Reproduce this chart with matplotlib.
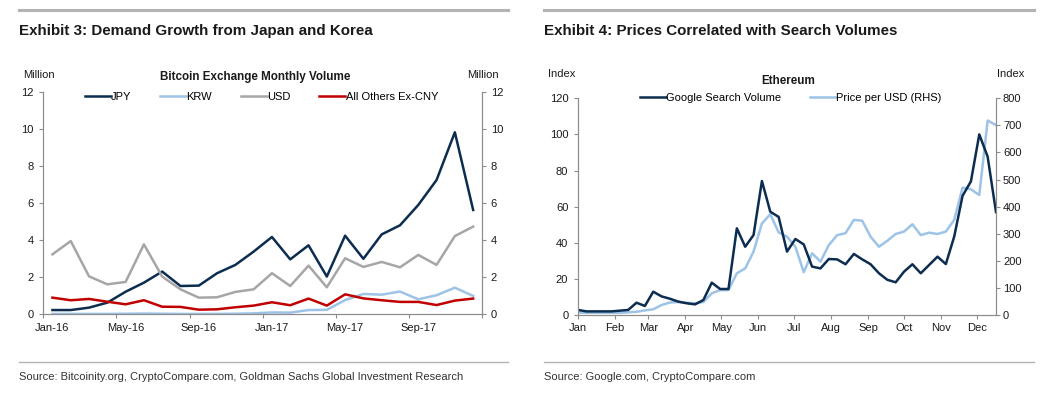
import matplotlib
matplotlib.use('Agg')
import matplotlib.pyplot as plt
import matplotlib.dates as mdates
from matplotlib import font_manager
from matplotlib.lines import Line2D
import pandas as pd

# Exhibit 3: Bitcoin exchange monthly volume (million), Jan-16 .. Dec-17
btc_months = ['Jan-16', 'Feb-16', 'Mar-16', 'Apr-16', 'May-16', 'Jun-16', 'Jul-16', 'Aug-16',
              'Sep-16', 'Oct-16', 'Nov-16', 'Dec-16', 'Jan-17', 'Feb-17', 'Mar-17', 'Apr-17',
              'May-17', 'Jun-17', 'Jul-17', 'Aug-17', 'Sep-17', 'Oct-17', 'Nov-17', 'Dec-17']
jpy = [0.23, 0.23, 0.36, 0.63, 1.22, 1.71, 2.31, 1.53, 1.55, 2.22, 2.67, 3.39,
       4.18, 2.97, 3.73, 2.04, 4.25, 3.00, 4.32, 4.81, 5.91, 7.26, 9.84, 5.64]
krw = [0.02, 0.02, 0.02, 0.02, 0.03, 0.04, 0.03, 0.02, 0.02, 0.02, 0.03, 0.05,
       0.10, 0.09, 0.23, 0.24, 0.77, 1.10, 1.06, 1.23, 0.81, 1.03, 1.44, 0.99]
usd = [3.24, 3.96, 2.05, 1.62, 1.75, 3.78, 2.04, 1.35, 0.90, 0.92, 1.21, 1.35,
       2.22, 1.53, 2.63, 1.46, 3.03, 2.56, 2.83, 2.54, 3.21, 2.67, 4.23, 4.74]
others = [0.90, 0.76, 0.83, 0.68, 0.54, 0.76, 0.41, 0.40, 0.25, 0.27, 0.38, 0.47,
          0.65, 0.49, 0.85, 0.47, 1.08, 0.86, 0.76, 0.67, 0.67, 0.50, 0.74, 0.85]

# Exhibit 4: Ethereum, weekly 2017
eth_weeks = pd.date_range('2017-01-01', periods=51, freq='7D')
google = [2.8, 2.0, 2.0, 2.0, 2.0, 2.4, 2.8, 6.8, 5.0, 12.9,
          10.3, 9.0, 7.4, 6.5, 5.9, 8.3, 17.9, 14.4, 14.4, 48.0,
          37.8, 44.3, 74.2, 57.2, 54.3, 35.1, 42.1, 39.1, 26.8, 25.8,
          31.0, 30.8, 28.1, 33.8, 30.8, 28.1, 23.1, 19.5, 18.1, 24.0,
          28.1, 23.1, 27.7, 32.3, 28.2, 43.4, 66.0, 74.0, 100.0, 87.7, 57.0]
price = [9, 8, 8, 8, 8, 8, 10, 12, 17, 21,
         37, 46, 48, 45, 43, 48, 80, 92, 92, 154,
         172, 234, 338, 372, 305, 289, 252, 158, 228, 197,
         258, 295, 302, 351, 348, 289, 252, 274, 299, 308,
         335, 295, 304, 299, 308, 351, 470, 464, 443, 718, 701]

navy = '#0c2d4f'
light = '#9dc3e6'
grey = '#a6a6a6'
red = '#c00000'
spine_c = '#8c8c8c'
text_c = '#1a1a1a'

names = {f.name for f in font_manager.fontManager.ttflist}
body = 'Liberation Sans' if 'Liberation Sans' in names else 'DejaVu Sans'
narrow = 'Liberation Sans Narrow' if 'Liberation Sans Narrow' in names else body
plt.rcParams['font.family'] = [body, 'DejaVu Sans']
plt.rcParams['font.size'] = 8

W, H = 1060, 393
fig = plt.figure(figsize=(W / 100, H / 100), dpi=100)


def px_box(x0, y0, x1, y1):
    return [x0 / W, 1 - y1 / H, (x1 - x0) / W, (y1 - y0) / H]


def fx(x):
    return x / W


def fy(y):
    return 1 - y / H


def style(ax):
    for s in ax.spines.values():
        s.set_color(spine_c)
        s.set_linewidth(0.8)
    ax.spines['top'].set_visible(False)
    ax.tick_params(which='both', color=spine_c, labelcolor=text_c, width=0.8,
                   length=3, direction='out', labelsize=8)


# ---------------- Exhibit 3 ----------------
ax1 = fig.add_axes(px_box(43.3, 92.3, 482.3, 314.3))
x = range(len(btc_months))
l_jpy, = ax1.plot(x, jpy, color=navy, lw=1.8, label='JPY')
l_krw, = ax1.plot(x, krw, color=light, lw=1.8, label='KRW')
l_usd, = ax1.plot(x, usd, color=grey, lw=1.8, label='USD')
l_oth, = ax1.plot(x, others, color=red, lw=1.8, label='All Others Ex-CNY')
ax1.set_xlim(-0.5, len(btc_months) - 0.5)
ax1.set_ylim(0, 12)
ax1.set_yticks(range(0, 13, 2))
ax1.set_xticks([i - 0.5 for i in range(0, 25, 4)])
ax1.set_xticklabels([])
ax1.set_xticks(range(0, 24, 4), minor=True)
ax1.set_xticklabels(btc_months[::4], minor=True)
style(ax1)
ax1.tick_params(axis='x', which='minor', length=0, pad=6)
ax1.tick_params(axis='y', pad=4)

ax1r = ax1.twinx()
ax1r.set_ylim(0, 12)
ax1r.set_yticks(range(0, 13, 2))
style(ax1r)
ax1r.tick_params(axis='y', pad=3)

ax1.legend(handles=[l_jpy, l_krw, l_usd, l_oth], loc='center', ncol=4, frameon=False,
           bbox_to_anchor=(fx(261.5), fy(96.7)), bbox_transform=fig.transFigure,
           handlelength=2.3, handletextpad=0.05, columnspacing=2.6, fontsize=8)

fig.text(fx(255.5), fy(77.3), 'Bitcoin Exchange Monthly Volume', ha='center', va='center',
         fontweight='bold', fontsize=8.4, color=text_c)
fig.text(fx(38.8), fy(75), 'Million', ha='center', va='center', fontsize=8, color=text_c)
fig.text(fx(483), fy(75), 'Million', ha='center', va='center', fontsize=8, color=text_c)

# ---------------- Exhibit 4 ----------------
ax3 = fig.add_axes(px_box(578, 98.3, 996, 315))
ax3r = ax3.twinx()
l_p, = ax3r.plot(eth_weeks, price, color=light, lw=1.8, label='Price per USD (RHS)')
l_g, = ax3.plot(eth_weeks, google, color=navy, lw=1.8, label='Google Search Volume')
ax3.set_zorder(ax3r.get_zorder() + 1)
ax3.patch.set_visible(False)
ax3.set_xlim(eth_weeks[0], eth_weeks[-1])
ax3.set_ylim(0, 120)
ax3.set_yticks(range(0, 121, 20))
ax3r.set_ylim(0, 800)
ax3r.set_yticks(range(0, 801, 100))
ax3.xaxis.set_major_locator(mdates.MonthLocator())
ax3.xaxis.set_major_formatter(mdates.DateFormatter('%b'))
style(ax3)
style(ax3r)
ax3.tick_params(axis='x', pad=2.5)
ax3.tick_params(axis='y', pad=4)
ax3r.tick_params(axis='y', pad=2)

ax3.legend(handles=[l_g, l_p], loc='center', ncol=2, frameon=False,
           bbox_to_anchor=(fx(791), fy(98.2)), bbox_transform=fig.transFigure,
           handlelength=2.3, handletextpad=0.05, columnspacing=2.6, fontsize=8)

fig.text(fx(788), fy(81), 'Ethereum', ha='center', va='center',
         fontweight='bold', fontsize=8.4, color=text_c)
fig.text(fx(562), fy(74.2), 'Index', ha='center', va='center', fontsize=8, color=text_c)
fig.text(fx(1011), fy(74.2), 'Index', ha='center', va='center', fontsize=8, color=text_c)

# ---------------- frame: rules, titles, sources ----------------
for x0, x1 in [(19, 508), (544, 1034)]:
    fig.add_artist(Line2D([fx(x0), fx(x1)], [fy(9.5)] * 2, color='#b3b3b3', lw=2.2,
                          transform=fig.transFigure))
    fig.add_artist(Line2D([fx(x0), fx(x1)], [fy(361.5)] * 2, color='#b3b3b3', lw=1.0,
                          transform=fig.transFigure))

t3 = fig.text(fx(19), fy(31), 'Exhibit 3: Demand Growth from Japan and Korea', ha='left',
              va='center', fontfamily=narrow, fontweight='bold', fontsize=12, color=text_c)
t4 = fig.text(fx(544), fy(31), 'Exhibit 4: Prices Correlated with Search Volumes', ha='left',
              va='center', fontfamily=narrow, fontweight='bold', fontsize=12, color=text_c)
s3 = fig.text(fx(19), fy(377), 'Source: Bitcoinity.org, CryptoCompare.com, Goldman Sachs Global Investment Research',
              ha='left', va='center', fontfamily=narrow, fontsize=8, color='#333333')
s4 = fig.text(fx(544), fy(377), 'Source: Google.com, CryptoCompare.com',
              ha='left', va='center', fontfamily=narrow, fontsize=8, color='#333333')

# scale the narrow texts so their widths match the reference
renderer = fig.canvas.get_renderer()
size = t3.get_fontsize() * 352 / t3.get_window_extent(renderer).width
t3.set_fontsize(size)
t4.set_fontsize(size)
size = s3.get_fontsize() * 445 / s3.get_window_extent(renderer).width
s3.set_fontsize(size)
s4.set_fontsize(size)

plt.savefig('out.png', dpi=100)
